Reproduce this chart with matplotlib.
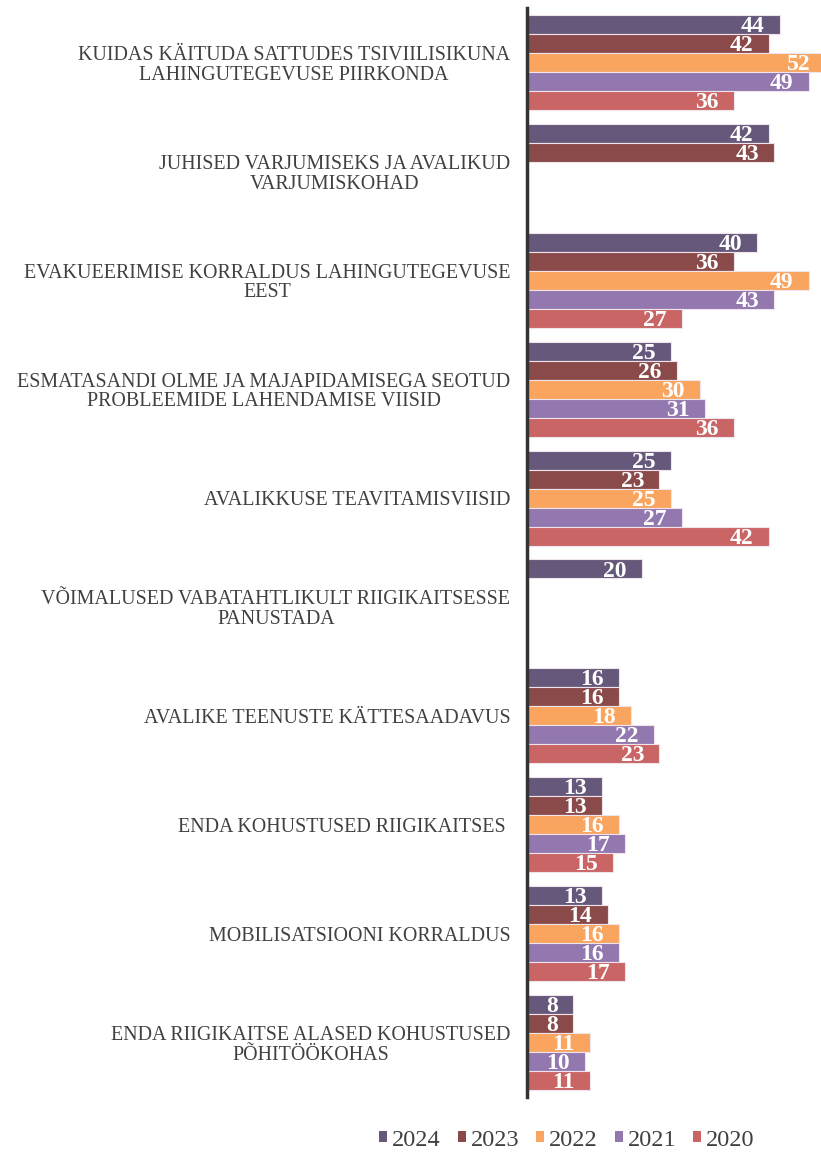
import numpy as np
import matplotlib
matplotlib.use("Agg")
import matplotlib.pyplot as plt
from matplotlib.patches import Patch

plt.rcParams['font.family'] = ['Liberation Serif', 'DejaVu Serif']

# %% data
categories = ["KUIDAS KÄITUDA SATTUDES TSIVIILISIKUNA\nLAHINGUTEGEVUSE PIIRKONDA",
              "JUHISED VARJUMISEKS JA AVALIKUD\nVARJUMISKOHAD",
              "EVAKUEERIMISE KORRALDUS LAHINGUTEGEVUSE\nEEST",
              "ESMATASANDI OLME JA MAJAPIDAMISEGA SEOTUD\nPROBLEEMIDE LAHENDAMISE VIISID",
              "AVALIKKUSE TEAVITAMISVIISID",
              "VÕIMALUSED VABATAHTLIKULT RIIGIKAITSESSE\nPANUSTADA",
              "AVALIKE TEENUSTE KÄTTESAADAVUS",
              "ENDA KOHUSTUSED RIIGIKAITSES ",
              "MOBILISATSIOONI KORRALDUS",
              "ENDA RIIGIKAITSE ALASED KOHUSTUSED\nPÕHITÖÖKOHAS"]
years = ['2024', '2023', '2022', '2021', '2020']
nan = np.nan
v2024 = [44, 42, 40, 25, 25, 20, 16, 13, 13, 8]
v2023 = [42, 43, 36, 26, 23, nan, 16, 13, 14, 8]
v2022 = [52, nan, 49, 30, 25, nan, 18, 16, 16, 11]
v2021 = [49, nan, 43, 31, 27, nan, 22, 17, 16, 10]
v2020 = [36, nan, 27, 36, 42, nan, 23, 15, 17, 11]
series = [v2024, v2023, v2022, v2021, v2020]
colors = ['#66587a', '#8b4a4a', '#f9a55f', '#9278af', '#c96565']

# %% plot
fig = plt.figure(figsize=(8.21, 11.55), dpi=100)
ax = fig.add_axes([527/821, 1-1097/1155, 1-527/821, (1097-8)/1155])

h = 0.1745
y = np.arange(len(categories))
for i, (vals, c) in enumerate(zip(series, colors)):
    pos = y - 2*h + i*h
    bars = ax.barh(pos, vals, height=h, color=c, edgecolor='#efe4ec',
                   linewidth=0.8, label=years[i])
    for b, v in zip(bars, vals):
        if np.isnan(v):
            continue
        ax.annotate(f'{v:g}', xy=(v, b.get_y() + h/2), xytext=(-11, -1.5),
                    textcoords='offset points', ha='right', va='center',
                    color='white', fontsize=17, fontweight='bold',
                    annotation_clip=False, clip_on=True)

ax.set_xlim(0, 51.1)
ax.set_ylim(len(categories) - 0.5, -0.5)
ax.set_xticks([])
ax.set_yticks(y)
ax.set_yticklabels(categories, fontsize=14.4, color='#404040',
                   multialignment='center', linespacing=1.05)
ax.tick_params(axis='y', length=0, pad=12)
for s in ['top', 'right', 'bottom']:
    ax.spines[s].set_visible(False)
ax.spines['left'].set_linewidth(2.5)
ax.spines['left'].set_color('#333333')

handles = [Patch(facecolor=c, label=yr) for c, yr in zip(colors, years)]
fig.legend(handles=handles, loc='center', bbox_to_anchor=(567/821, 1-1140/1155),
           ncol=5, frameon=False, fontsize=17.5, handlelength=0.33,
           handleheight=0.33, handletextpad=0.2, columnspacing=0.7,
           labelcolor='#404040')

fig.savefig('out.png', dpi=100)
